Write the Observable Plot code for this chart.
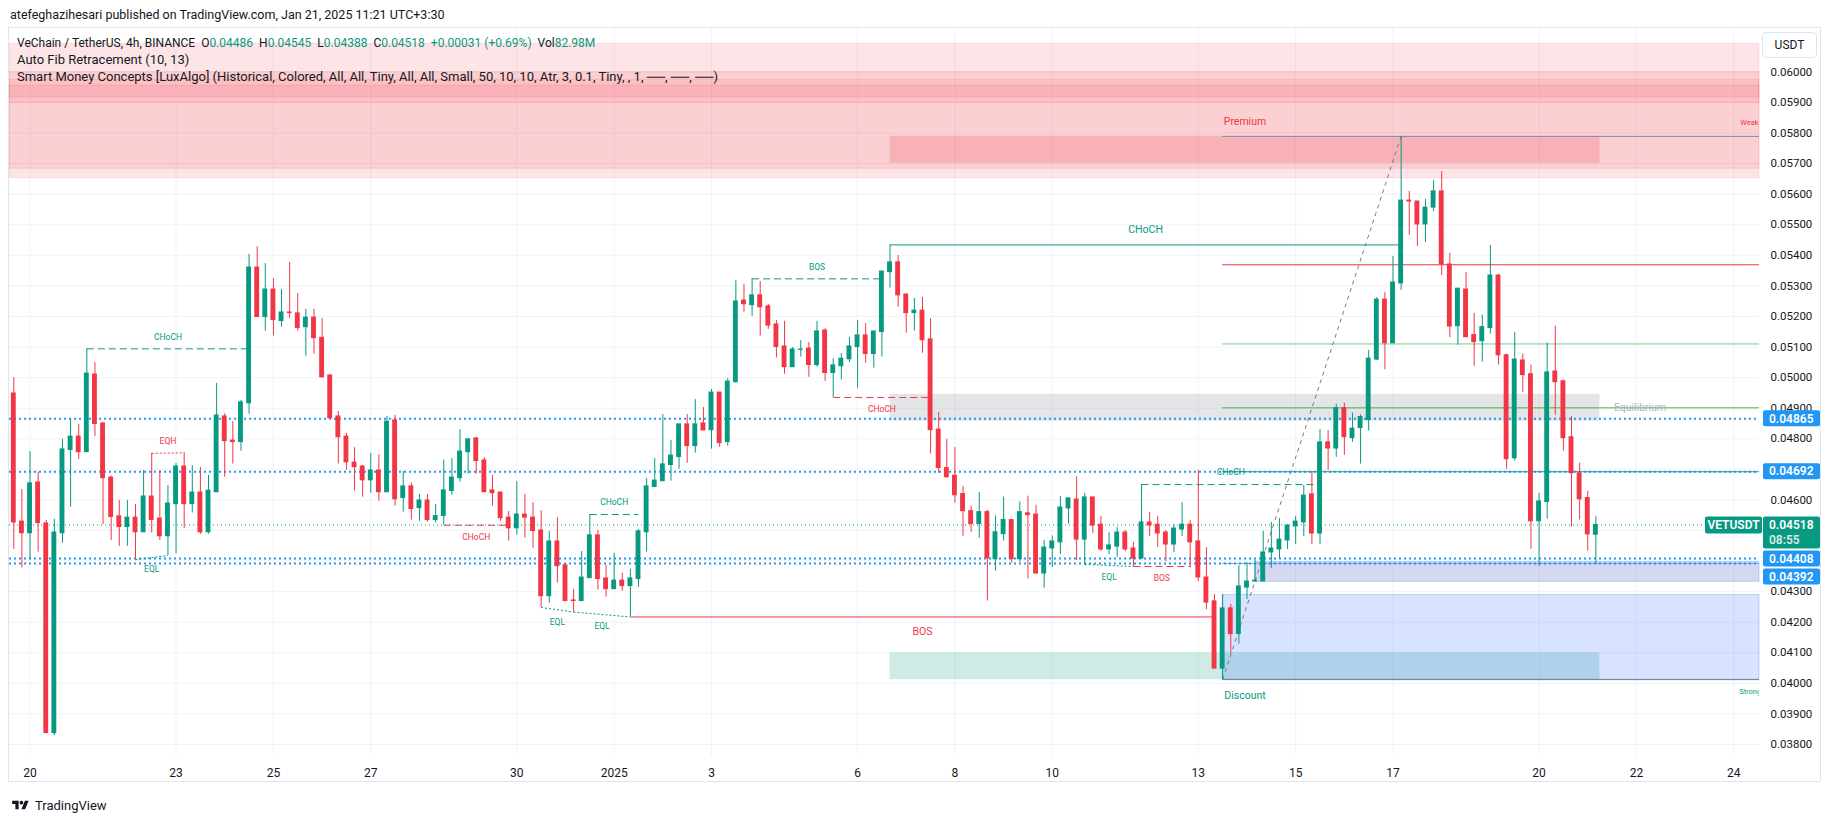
<!DOCTYPE html>
<html>
<head>
<meta charset="utf-8">
<script src="https://cdn.jsdelivr.net/npm/d3@7"></script>
<script src="https://cdn.jsdelivr.net/npm/@observablehq/plot@0.6"></script>
<style>
  html, body { margin: 0; padding: 0; background: #fff; }
  body { font-family: Roboto, "Liberation Sans", Arial, sans-serif; color: #131722; }
  #page { position: relative; width: 1835px; height: 821px; overflow: hidden; background: #fff; }
  #hdr { height: 27px; line-height: 30px; padding-left: 10px; font-size: 12.5px; white-space: nowrap; }
  #chart svg { display: block; }
  .legend { position: absolute; left: 17px; font-size: 13px; line-height: 16px; white-space: nowrap; color: #131722; }
  .legend .v { color: #089981; }
  .legend .k { margin-left: 6px; }
  #frame { position: absolute; left: 8px; top: 27px; width: 1813px; height: 755px; border: 1px solid #e0e3eb; box-sizing: border-box; pointer-events: none; }
  #usdt { position: absolute; left: 1762px; top: 32px; width: 55px; height: 26px; border: 1px solid #e0e3eb; border-radius: 4px; box-sizing: border-box; font-size: 12px; line-height: 24px; text-align: center; background: #fff; }
  #footer { position: absolute; left: 10px; top: 797px; height: 16px; display: flex; align-items: center; gap: 4px; font-size: 13px; color: #131722; }
</style>
</head>
<body>
<div id="page">
  <div id="hdr">atefeghazihesari published on TradingView.com, Jan 21, 2025 11:21 UTC+3:30</div>
  <div id="chart"></div>
  <div class="legend" style="top:35px;font-size:12px">VeChain / TetherUS, 4h, BINANCE<span class="k">O</span><span class="v">0.04486</span><span class="k">H</span><span class="v">0.04545</span><span class="k">L</span><span class="v">0.04388</span><span class="k">C</span><span class="v">0.04518</span><span class="k v">+0.00031 (+0.69%)</span><span class="k">Vol</span><span class="v">82.98M</span></div>
  <div class="legend" style="top:52px">Auto Fib Retracement (10, 13)</div>
  <div class="legend" style="top:69px">Smart Money Concepts [LuxAlgo] (Historical, Colored, All, All, Tiny, All, All, Small, 50, 10, 10, Atr, 3, 0.1, Tiny, , 1, ──, ──, ──)</div>
  <div id="usdt">USDT</div>
  <div id="frame"></div>
  <div id="footer">
    <svg width="21" height="13" viewBox="0 0 36 28"><path d="M14 22H7V11H0V4h14v18zM28 22h-8l7.5-18h8L28 22z" fill="#131722"/><circle cx="20" cy="8" r="4" fill="#131722"/></svg>
    <span>TradingView</span>
  </div>
</div>
<script>
// ---------- DATA ----------
const open = [
0.04948,0.04529,0.04491,0.04657,0.04523,0.03837,0.04491,0.04763,0.04807,0.04756,
0.05010,0.04850,0.04673,0.04546,0.04511,0.04542,0.04494,0.04611,0.04539,0.04481,
0.04586,0.04709,0.04586,0.04624,0.04494,0.04625,0.04873,0.04794,0.04789,0.04916,
0.05360,0.05198,0.05288,0.05185,0.05213,0.05210,0.05165,0.05196,0.05130,0.05007,
0.04873,0.04807,0.04722,0.04709,0.04664,0.04696,0.04625,0.04860,0.04606,0.04644,
0.04573,0.04598,0.04534,0.04547,0.04629,0.04671,0.04756,0.04801,0.04729,0.04631,
0.04624,0.04542,0.04507,0.04552,0.04542,0.04500,0.04285,0.04464,0.04386,0.04271,
0.04269,0.04344,0.04484,0.04343,0.04308,0.04336,0.04318,0.04341,0.04494,0.04642,
0.04661,0.04714,0.04740,0.04847,0.04776,0.04850,0.04828,0.04951,0.04789,0.04985,
0.05252,0.05237,0.05269,0.05233,0.05174,0.05102,0.05034,0.05091,0.05095,0.05041,
0.05154,0.05015,0.05037,0.05060,0.05100,0.05138,0.05077,0.05149,0.05345,0.05377,
0.05272,0.05211,0.05219,0.05125,0.04830,0.04704,0.04679,0.04619,0.04563,0.04521,
0.04560,0.04406,0.04488,0.04534,0.04406,0.04556,0.04552,0.04359,0.04441,0.04461,
0.04572,0.04601,0.04470,0.04608,0.04519,0.04438,0.04447,0.04493,0.04441,0.04408,
0.04526,0.04519,0.04493,0.04454,0.04503,0.04519,0.04464,0.04346,0.04268,0.04048,
0.04245,0.04161,0.04313,0.04333,0.04333,0.04428,0.04438,0.04467,0.04513,0.04526,
0.04618,0.04490,0.04788,0.04768,0.04900,0.04802,0.04835,0.04861,0.05059,0.05255,
0.05112,0.05308,0.05579,0.05576,0.05501,0.05556,0.05609,0.05370,0.05168,0.05288,
0.05139,0.05119,0.05162,0.05334,0.05073,0.04736,0.05056,0.05011,0.04530,0.04593,
0.05020,0.04988,0.04805,0.04687,0.04606,0.04486];
const high = [
0.05000,0.04634,0.04758,0.04691,0.04533,0.04536,0.04798,0.04863,0.04847,0.05094,
0.05049,0.04853,0.04678,0.04598,0.04598,0.04585,0.04696,0.04752,0.04696,0.04647,
0.04719,0.04754,0.04712,0.04706,0.04680,0.04981,0.04882,0.04856,0.04925,0.05403,
0.05428,0.05373,0.05324,0.05288,0.05377,0.05275,0.05223,0.05223,0.05193,0.05010,
0.04889,0.04817,0.04771,0.04713,0.04752,0.04748,0.04873,0.04876,0.04693,0.04655,
0.04618,0.04618,0.04585,0.04730,0.04735,0.04830,0.04798,0.04804,0.04738,0.04680,
0.04626,0.04562,0.04660,0.04618,0.04591,0.04565,0.04497,0.04542,0.04390,0.04307,
0.04431,0.04552,0.04500,0.04386,0.04425,0.04360,0.04373,0.04503,0.04670,0.04735,
0.04879,0.04794,0.04847,0.04879,0.04928,0.04902,0.04961,0.04951,0.04997,0.05318,
0.05305,0.05324,0.05314,0.05239,0.05187,0.05184,0.05098,0.05121,0.05115,0.05184,
0.05160,0.05062,0.05079,0.05131,0.05187,0.05177,0.05151,0.05347,0.05434,0.05399,
0.05272,0.05259,0.05262,0.05193,0.04886,0.04798,0.04771,0.04644,0.04579,0.04624,
0.04566,0.04547,0.04609,0.04534,0.04593,0.04612,0.04582,0.04467,0.04482,0.04611,
0.04605,0.04676,0.04621,0.04608,0.04546,0.04493,0.04510,0.04500,0.04461,0.04650,
0.04559,0.04546,0.04500,0.04519,0.04591,0.04532,0.04696,0.04444,0.04290,0.04290,
0.04258,0.04385,0.04395,0.04402,0.04497,0.04526,0.04539,0.04519,0.04546,0.04647,
0.04693,0.04830,0.04827,0.04913,0.04916,0.04884,0.04878,0.05089,0.05262,0.05278,
0.05396,0.05789,0.05609,0.05576,0.05583,0.05645,0.05674,0.05406,0.05291,0.05344,
0.05210,0.05204,0.05432,0.05337,0.05077,0.05148,0.05077,0.05041,0.04622,0.05113,
0.05168,0.04992,0.04873,0.04720,0.04628,0.04545];
const low = [
0.04438,0.04377,0.04405,0.04429,0.03837,0.03829,0.04458,0.04576,0.04732,0.04756,
0.04807,0.04519,0.04467,0.04448,0.04448,0.04404,0.04494,0.04491,0.04467,0.04418,
0.04424,0.04506,0.04557,0.04487,0.04488,0.04625,0.04674,0.04717,0.04759,0.04880,
0.05198,0.05152,0.05136,0.05165,0.05194,0.05152,0.05070,0.05077,0.04998,0.04867,
0.04717,0.04697,0.04629,0.04609,0.04622,0.04596,0.04625,0.04580,0.04560,0.04534,
0.04530,0.04527,0.04524,0.04517,0.04615,0.04658,0.04684,0.04684,0.04625,0.04580,
0.04530,0.04465,0.04485,0.04475,0.04442,0.04248,0.04262,0.04328,0.04269,0.04233,
0.04269,0.04344,0.04305,0.04282,0.04308,0.04301,0.04217,0.04314,0.04429,0.04642,
0.04661,0.04661,0.04700,0.04720,0.04753,0.04827,0.04766,0.04772,0.04776,0.04982,
0.05214,0.05201,0.05136,0.05158,0.05064,0.05011,0.05034,0.05067,0.05001,0.05034,
0.04988,0.04935,0.04992,0.05049,0.04965,0.05047,0.05031,0.05067,0.05293,0.05230,
0.05145,0.05152,0.05080,0.04750,0.04687,0.04671,0.04589,0.04481,0.04494,0.04475,
0.04269,0.04367,0.04465,0.04393,0.04396,0.04341,0.04359,0.04311,0.04379,0.04422,
0.04521,0.04402,0.04389,0.04490,0.04431,0.04421,0.04412,0.04431,0.04382,0.04405,
0.04480,0.04444,0.04398,0.04428,0.04480,0.04378,0.04333,0.04241,0.04048,0.04012,
0.04099,0.04128,0.04274,0.04330,0.04333,0.04376,0.04408,0.04438,0.04454,0.04480,
0.04454,0.04454,0.04696,0.04739,0.04746,0.04788,0.04717,0.04825,0.05056,0.05026,
0.05112,0.05285,0.05465,0.05429,0.05442,0.05543,0.05334,0.05131,0.05106,0.05132,
0.05037,0.05051,0.05142,0.05041,0.04700,0.04727,0.04952,0.04439,0.04383,0.04537,
0.04877,0.04759,0.04511,0.04534,0.04432,0.04388];
const close = [
0.04526,0.04491,0.04654,0.04524,0.03837,0.04493,0.04765,0.04807,0.04756,0.05013,
0.04848,0.04671,0.04544,0.04511,0.04542,0.04494,0.04611,0.04534,0.04481,0.04588,
0.04709,0.04586,0.04624,0.04494,0.04630,0.04876,0.04792,0.04789,0.04919,0.05360,
0.05198,0.05288,0.05188,0.05213,0.05211,0.05162,0.05196,0.05129,0.05001,0.04867,
0.04805,0.04723,0.04707,0.04664,0.04696,0.04625,0.04856,0.04602,0.04644,0.04570,
0.04598,0.04534,0.04547,0.04631,0.04673,0.04758,0.04798,0.04727,0.04625,0.04622,
0.04540,0.04507,0.04552,0.04542,0.04498,0.04285,0.04464,0.04383,0.04269,0.04269,
0.04346,0.04484,0.04341,0.04308,0.04336,0.04318,0.04343,0.04497,0.04644,0.04663,
0.04716,0.04745,0.04847,0.04776,0.04847,0.04827,0.04951,0.04786,0.04987,0.05249,
0.05240,0.05269,0.05230,0.05170,0.05100,0.05034,0.05092,0.05092,0.05041,0.05151,
0.05015,0.05040,0.05062,0.05102,0.05138,0.05077,0.05151,0.05347,0.05377,0.05269,
0.05211,0.05219,0.05122,0.04828,0.04704,0.04674,0.04615,0.04563,0.04521,0.04560,
0.04409,0.04494,0.04534,0.04406,0.04560,0.04550,0.04359,0.04444,0.04464,0.04575,
0.04605,0.04470,0.04608,0.04516,0.04438,0.04451,0.04493,0.04438,0.04408,0.04526,
0.04516,0.04490,0.04454,0.04506,0.04519,0.04461,0.04346,0.04264,0.04048,0.04245,
0.04161,0.04317,0.04333,0.04336,0.04428,0.04441,0.04470,0.04516,0.04529,0.04614,
0.04490,0.04788,0.04768,0.04900,0.04805,0.04833,0.04871,0.05062,0.05255,0.05112,
0.05311,0.05579,0.05576,0.05501,0.05556,0.05609,0.05370,0.05167,0.05291,0.05132,
0.05116,0.05165,0.05334,0.05073,0.04733,0.05059,0.05008,0.04530,0.04595,0.05017,
0.04985,0.04802,0.04687,0.04602,0.04487,0.04518];

// time axis ticks
const tickDays   = ["2024-12-20","2024-12-23","2024-12-25","2024-12-27","2024-12-30","2025-01-01","2025-01-03","2025-01-06","2025-01-08","2025-01-10","2025-01-13","2025-01-15","2025-01-17","2025-01-20","2025-01-22","2025-01-24"];
const tickLabels = ["20","23","25","27","30","2025","3","6","8","10","13","15","17","20","22","24"];
// price axis ticks
const priceTicks = [0.038,0.039,0.040,0.041,0.042,0.043,0.044,0.045,0.046,0.047,0.048,0.049,0.050,0.051,0.052,0.053,0.054,0.055,0.056,0.057,0.058,0.059,0.060];

// Smart Money Concepts structures (bar numbers are 1-based candle indices)
const structName      = ["CHoCH","EQH","EQL","CHoCH","CHoCH","EQL","EQL","BOS","BOS","CHoCH","CHoCH","EQL","BOS","CHoCH"];
const structKind      = ["internal","eq","eq","internal","internal","eq","eq","swing","internal","internal","swing","eq","internal","internal"];
const structDir       = ["bull","bear","bull","bear","bull","bull","bull","bear","bull","bear","bull","bull","bear","bull"];
const structFromBar   = [10,18,16,54,72,66,70,77,92,102,109,133,139,140];
const structToBar     = [30,22,20,62,78,70,77,149,108,114,172,139,146,162];
const structFromPrice = [0.05094,0.04752,0.04404,0.04517,0.04552,0.04248,0.04233,0.04217,0.05323,0.04935,0.05434,0.04389,0.04382,0.04650];
const structToPrice   = [0.05094,0.04754,0.04418,0.04517,0.04552,0.04233,0.04217,0.04217,0.05323,0.04935,0.05434,0.04382,0.04382,0.04650];

// supply order blocks spanning the whole view (pink)
const supplyTop    = [0.06092,0.05999,0.05974,0.05955];
const supplyBottom = [0.05652,0.05683,0.05899,0.05917];
// premium / equilibrium / discount zones
const zoneName    = ["Premium","Equilibrium","Discount"];
const zoneFromBar = [109,109,109];
const zoneToBar   = [196.5,196.5,196.5];
const zoneTop     = [0.05789,0.04945,0.04100];
const zoneBottom  = [0.05701,0.04857,0.04012];
// demand blocks (blue)
const demandFromBar = [150,154];
const demandTop     = [0.04289,0.04396];
const demandBottom  = [0.04012,0.04332];
// auto fib retracement
const fibAnchorBar   = [150,172];
const fibAnchorPrice = [0.04012,0.05789];
const fibLevels      = [0.05789,0.05369,0.05110,0.04901,0.04692,0.04392,0.04012];
// horizontal alert lines & last price
const alertLevels = [0.04865,0.04692,0.04408,0.04392];
const symbol = "VETUSDT";
const countdown = "08:55";
const strongWeak = [{name: "Weak High", price: 0.05789}, {name: "Strong Low", price: 0.04012}];

// ---------- BUILD ----------
const H4 = 4 * 3600e3;
const firstBarUTC = Date.UTC(2024, 11, 19, 16);
const barTime = k => new Date(firstBarUTC + (k - 1) * H4);
const candles = open.map((o, i) => ({t: barTime(i + 1), o, h: high[i], l: low[i], c: close[i]}));
const lastPrice = close[close.length - 1];
const lastBar = close.length;
const xDomain = [barTime(0.47), barTime(216.17)];
const tickDates = tickDays.map(s => new Date(s + "T00:00:00Z"));
const tickLabelOf = new Map(tickDates.map((d, i) => [+d, tickLabels[i]]));
const fmt5 = d3.format(".5f");

const GREEN = "#089981", RED = "#f23645";
const candleColor = d => d.c >= d.o ? GREEN : RED;
const halfBody = 1.2 * 3600e3;

const structs = structName.map((name, i) => ({
  name, kind: structKind[i], dir: structDir[i],
  from: structFromBar[i], to: structToBar[i],
  p1: structFromPrice[i], p2: structToPrice[i]
}));
structs.forEach(d => { d.above = d.kind === "eq" ? d.name === "EQH" : d.dir === "bull"; });
const sColor = d => d.dir === "bull" ? GREEN : RED;
const sLink = (kind, dash) => Plot.link(structs.filter(d => d.kind === kind), {
  x1: d => barTime(d.from), y1: "p1", x2: d => barTime(d.to), y2: "p2",
  stroke: sColor, strokeWidth: 1, strokeDasharray: dash, clip: true
});
const sText = (filter, dy, size) => Plot.text(structs.filter(filter), {
  x: d => barTime((d.from + d.to) / 2), y: d => (d.p1 + d.p2) / 2, text: "name",
  fill: sColor, dy, fontSize: size, clip: true
});

const supply = supplyTop.map((t, i) => ({top: t, bottom: supplyBottom[i]}));
const supplyOpacity = [0.13, 0.12, 0.10, 0.10];
const zones = zoneName.map((name, i) => ({name, from: zoneFromBar[i], to: zoneToBar[i], top: zoneTop[i], bottom: zoneBottom[i]}));
const zoneFill = {Premium: RED, Equilibrium: "#787b86", Discount: GREEN};
const demand = demandFromBar.map((b, i) => ({from: b, top: demandTop[i], bottom: demandBottom[i]}));
const demandFill = ["#2962ff", "#3f51b5"];
const demandOpacity = [0.18, 0.22];
const fibColors = ["#7b8cad", "#f23645", "#81c784", "#4caf50", "#089981", "#64b5f6", "#787b86"];

const chart = Plot.plot({
  width: 1835, height: 760,
  marginLeft: 9, marginRight: 76, marginTop: 0, marginBottom: 32,
  x: {type: "utc", domain: xDomain},
  y: {domain: [0.037638, 0.061452]},
  style: {fontFamily: "Roboto, 'Liberation Sans', sans-serif", fontSize: "11.5px", color: "#131722", background: "#fff", overflow: "visible"},
  marks: [
    Plot.gridY({ticks: priceTicks, stroke: "#f0f3fa", strokeOpacity: 1}),
    Plot.gridX({ticks: tickDates, stroke: "#f0f3fa", strokeOpacity: 1}),
    Plot.rect(supply, {x1: () => xDomain[0], x2: () => xDomain[1], y1: "bottom", y2: "top",
      fill: RED, fillOpacity: (d, i) => supplyOpacity[i], stroke: RED, strokeOpacity: 0.12}),
    Plot.rect(zones, {x1: d => barTime(d.from), x2: d => barTime(d.to), y1: "bottom", y2: "top",
      fill: d => zoneFill[d.name], fillOpacity: 0.2}),
    Plot.rect(demand, {x1: d => barTime(d.from), x2: () => xDomain[1], y1: "bottom", y2: "top",
      fill: (d, i) => demandFill[i], fillOpacity: (d, i) => demandOpacity[i], stroke: "#2962ff", strokeOpacity: 0.25}),
    Plot.ruleY(fibLevels, {y: d => d, x1: () => barTime(fibAnchorBar[0]), x2: () => xDomain[1],
      stroke: (d, i) => fibColors[i], strokeWidth: 1}),
    Plot.link([0], {x1: () => barTime(fibAnchorBar[0]), y1: () => fibAnchorPrice[0],
      x2: () => barTime(fibAnchorBar[1]), y2: () => fibAnchorPrice[1],
      stroke: "#787b86", strokeWidth: 1, strokeDasharray: "4,4"}),
    Plot.ruleY(alertLevels, {stroke: "#2196f3", strokeWidth: 2, strokeDasharray: "2,3"}),
    Plot.ruleY([lastPrice], {stroke: GREEN, strokeWidth: 1, strokeDasharray: "1,3"}),
    sLink("swing", null),
    sLink("internal", "7,4"),
    sLink("eq", "2,2"),
    Plot.ruleX(candles, {x: "t", y1: "l", y2: "h", stroke: candleColor, strokeWidth: 1}),
    Plot.rect(candles, {x1: d => new Date(+d.t - halfBody), x2: d => new Date(+d.t + halfBody),
      y1: "o", y2: "c", fill: candleColor, insetTop: -0.5, insetBottom: -0.5}),
    sText(d => d.kind === "swing" && d.above, -15, 10.5),
    sText(d => d.kind === "swing" && !d.above, 15, 10.5),
    sText(d => d.kind !== "swing" && d.above, -12, 8.5),
    sText(d => d.kind !== "swing" && !d.above, 12, 8.5),
    Plot.text(zones.filter(d => d.name === "Premium"), {x: d => barTime((d.from + d.to) / 2), y: "top", text: "name", fill: RED, dy: -15, fontSize: 10.5}),
    Plot.text(zones.filter(d => d.name === "Discount"), {x: d => barTime((d.from + d.to) / 2), y: "bottom", text: "name", fill: GREEN, dy: 16, fontSize: 10.5}),
    Plot.text(zones.filter(d => d.name === "Equilibrium"), {x: d => barTime(d.to), y: d => (d.top + d.bottom) / 2, text: "name", fill: "#b2b5be", textAnchor: "start", dx: 14, fontSize: 10.5}),
    Plot.text(strongWeak.filter(d => d.name === "Weak High"), {x: () => barTime(lastBar + 20), y: "price", text: "name", fill: RED, dy: -14, fontSize: 7.5, clip: true}),
    Plot.text(strongWeak.filter(d => d.name === "Strong Low"), {x: () => barTime(lastBar + 20), y: "price", text: "name", fill: GREEN, dy: 12, fontSize: 7.5, clip: true}),
    Plot.axisX({ticks: tickDates, tickFormat: d => tickLabelOf.get(+d), tickSize: 0, tickPadding: 13, fontSize: 12, label: null}),
    Plot.axisY({anchor: "right", ticks: priceTicks, tickFormat: fmt5, tickSize: 0, tickPadding: 11, fontSize: 11.5, label: null})
  ]
});
document.getElementById("chart").appendChild(chart);

// ---------- price tags on the right scale ----------
const svg = d3.select(chart);
const ysc = chart.scale("y");
const plotRight = 1835 - 76;
const tags = [
  {price: lastPrice, lines: [fmt5(lastPrice), countdown], fill: GREEN, h: 32},
  ...alertLevels.map(v => ({price: v, lines: [fmt5(v)], fill: "#2196f3", h: 16}))
];
tags.forEach(t => { t.top = ysc.apply(t.price) - 8; });
tags.sort((a, b) => a.top - b.top);
for (let i = 1; i < tags.length; i++) {
  const p = tags[i - 1];
  if (tags[i].top < p.top + p.h + 2) tags[i].top = p.top + p.h + 2;
}
// hide scale labels covered by a tag (as TradingView does)
const covered = new Set(priceTicks.filter(v => {
  const y = ysc.apply(v);
  return tags.some(t => y > t.top - 2 && y < t.top + t.h + 2);
}).map(fmt5));
svg.selectAll("text").filter(function() { return covered.has(this.textContent); }).remove();

const g = svg.append("g").attr("text-anchor", "start");
tags.forEach(t => {
  g.append("rect").attr("x", plotRight + 4).attr("y", t.top).attr("width", 57).attr("height", t.h)
    .attr("rx", 2).attr("fill", t.fill);
  t.lines.forEach((s, j) => {
    g.append("text").attr("x", plotRight + 10).attr("y", t.top + 8 + j * 15).attr("dy", "0.35em")
      .attr("text-anchor", "start")
      .attr("fill", j === 0 ? "#fff" : "rgba(255,255,255,0.85)").attr("font-size", 12).attr("font-weight", 600)
      .text(s);
  });
});
const lastTag = tags.find(t => t.price === lastPrice);
g.append("rect").attr("x", plotRight - 54).attr("y", lastTag.top).attr("width", 57).attr("height", 17).attr("rx", 2).attr("fill", GREEN);
g.append("text").attr("x", plotRight - 25.5).attr("y", lastTag.top + 8.5).attr("dy", "0.35em").attr("text-anchor", "middle")
  .attr("fill", "#fff").attr("font-size", 12).attr("font-weight", 600).text(symbol);
</script>
</body>
</html>
